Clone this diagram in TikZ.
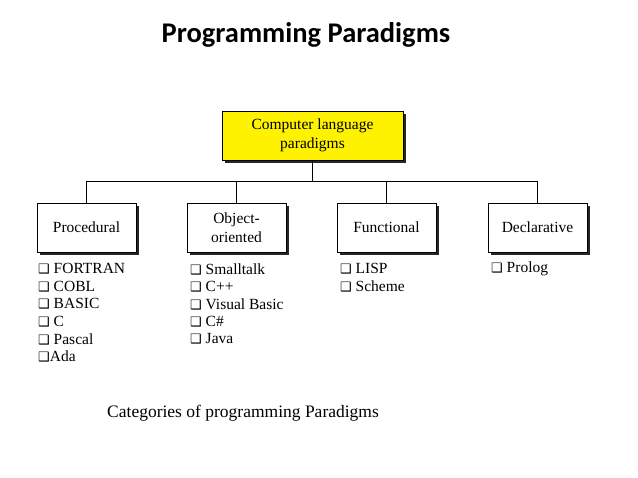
\documentclass[tikz,border=0pt]{standalone}
\usepackage{fontspec}
\setmainfont{Liberation Serif}
\newfontfamily\titlefont{Carlito}
\newfontfamily\symfont{DejaVu Sans}
\begin{document}
\begin{tikzpicture}[x=1pt,y=-1pt,
  box/.style={draw=black,line width=0.8pt,fill=white,minimum width=99pt,minimum height=49pt,font=\fontsize{15.5}{19}\selectfont,align=center,
    inner sep=0pt},
  shad/.style={fill=black!85},
  item/.style={anchor=west,font=\fontsize{15.5}{16}\selectfont,inner sep=0pt},
  conn/.style={line width=0.8pt}]
\useasboundingbox (0,0) rectangle (638,478);
\node[font=\titlefont\bfseries\fontsize{28.5}{30}\selectfont] (title) at (306,35) {Programming Paradigms};
% shadows
\fill[shad] (225,114) rectangle (406,163);
\foreach \x in {40,190,340,491}{\fill[shad] (\x,206) rectangle ++(99,49);}
\node[box,fill=yellow,minimum width=181pt] (root) at (312.5,135.5) {Computer language\\paradigms};
\node[box] (p) at (86.5,227.5) {Procedural};
\node[box] (o) at (236.5,227.5) {Object-\\oriented};
\node[box] (f) at (386.5,227.5) {Functional};
\node[box] (d) at (537.5,227.5) {Declarative};
\coordinate (j) at (312.5,181);
\draw[conn] (root.south) -- (j);
\draw[conn] (p.north) -- (p.north |- j) -- (d.north |- j) -- (d.north);
\draw[conn] (o.north) -- (o.north |- j);
\draw[conn] (f.north) -- (f.north |- j);
\def\q{{\symfont\fontsize{13}{13}\selectfont ❑}}
\foreach \t [count=\i] in {FORTRAN,COBL,BASIC,C,Pascal}
  \node[item] (pi\i) at (38,{269+17.5*(\i-1)}) {\q\ \t};
\node[item] (pi6) at (38,356.5) {\q Ada};
\foreach \t [count=\i] in {Smalltalk,C++,Visual Basic,C\#,Java}
  \node[item] (oi\i) at (190,{269+17.5*(\i-1)}) {\q\ \t};
\foreach \t [count=\i] in {LISP,Scheme}
  \node[item] (fi\i) at (340,{269+17.5*(\i-1)}) {\q\ \t};
\node[item] (di1) at (491,269) {\q\ Prolog};
\node[font=\fontsize{17.5}{18}\selectfont,anchor=west,inner sep=0pt] (cap) at (107,413) {Categories of programming Paradigms};
\end{tikzpicture}
\end{document}
